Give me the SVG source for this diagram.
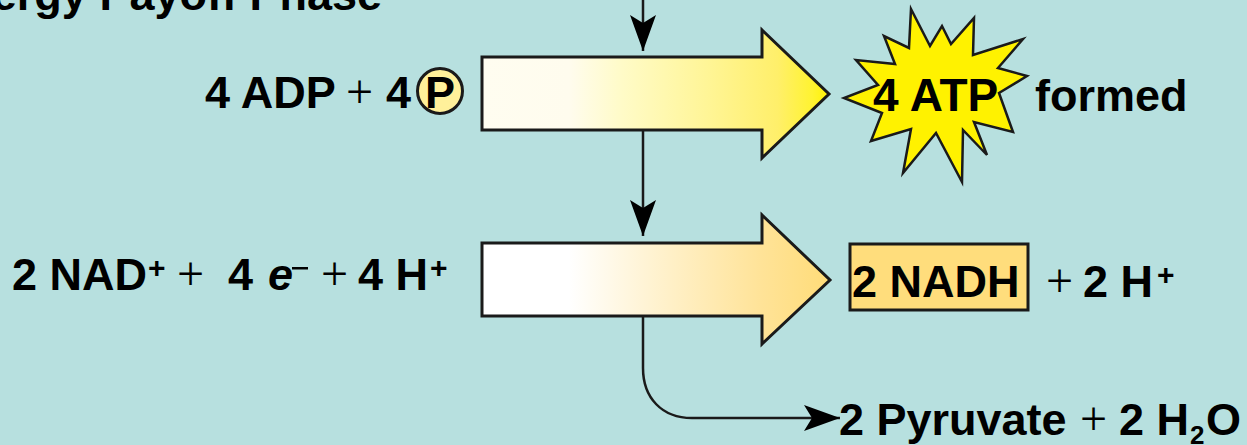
<svg xmlns="http://www.w3.org/2000/svg" width="1247" height="445" viewBox="0 0 1247 445">
<style>
text{font-family:"Liberation Sans",Arial,sans-serif;font-weight:700;font-size:45px;fill:#000}
.plain{font-family:"Liberation Serif","Times New Roman",serif;font-weight:400;font-size:48px}
.big{stroke:#1a1a1a;stroke-width:3;stroke-linejoin:miter}
.wire{fill:none;stroke:#1a1a1a;stroke-width:2.5}
.sup{font-size:30px}
.sub{font-size:26px}
</style>
<defs>
<linearGradient id="g1" gradientUnits="userSpaceOnUse" x1="482" x2="830" y1="0" y2="0"><stop offset="0" stop-color="#fffdf0"/><stop offset="0.25" stop-color="#fffcee"/><stop offset="0.4" stop-color="#fffbc8"/><stop offset="0.65" stop-color="#fff596"/><stop offset="0.85" stop-color="#ffef6a"/><stop offset="0.95" stop-color="#fff330"/><stop offset="1" stop-color="#fff200"/></linearGradient>
<linearGradient id="g2" gradientUnits="userSpaceOnUse" x1="482" x2="830" y1="0" y2="0"><stop offset="0" stop-color="#ffffff"/><stop offset="0.25" stop-color="#ffffff"/><stop offset="0.5" stop-color="#fff2cf"/><stop offset="0.8" stop-color="#ffe398"/><stop offset="1" stop-color="#ffdc78"/></linearGradient>
<marker id="ah" markerUnits="userSpaceOnUse" markerWidth="38" markerHeight="28" refX="36" refY="14" orient="auto"><path d="M0 1L36 14L0 27L8 14Z" fill="#000"/></marker>
</defs>
<rect width="1247" height="445" fill="#b7e0df"/>
<g id="connectors">
<path class="wire" d="M643 0V51" marker-end="url(#ah)"/>
<path class="wire" d="M643 130V236" marker-end="url(#ah)"/>
<path class="wire" d="M643 316V368C643 398 662 418 692 418H840" marker-end="url(#ah)"/>
</g>
<g id="title"><text x="382" y="10" text-anchor="end">Energy Payoff Phase</text></g>
<g id="arrow-atp"><path class="big" fill="url(#g1)" d="M482 57H762V30L829 94L762 158V130H482Z"/></g>
<g id="arrow-nadh"><path class="big" fill="url(#g2)" d="M482 243H762V215L830 280L762 344V316H482Z"/></g>
<g id="inputs-atp">
<text x="205" y="108">4 ADP</text>
<text x="346" y="108" class="plain">+</text>
<text x="386" y="108">4</text>
<circle cx="440" cy="91" r="22.5" fill="#fff09a" stroke="#1a1a1a" stroke-width="3"/>
<text x="440" y="108" text-anchor="middle">P</text>
</g>
<g id="atp">
<path d="M911 9L930 46L942 26L951 44L974 18L973 55L1023 39L998 68L1027 76L999 93L1013 132L974 122L987 155L963 130L962 182L936 133L903 173L911 129L871 141L882 113L844 98L878 85L856 60L895 64L884 36L909 48Z" fill="#fff200" stroke="#1a1a1a" stroke-width="2.5"/>
<text x="873" y="111" style="font-size:46px">4 ATP</text>
</g>
<g id="formed"><text x="1035" y="111">formed</text></g>
<g id="inputs-nadh">
<text x="12" y="290">2 NAD</text>
<text x="148" y="278" class="sup">+</text>
<text x="177" y="290" class="plain">+</text>
<text x="228" y="290">4</text>
<text x="268" y="290" style="font-style:italic">e</text>
<rect x="292" y="267" width="16" height="2.5" fill="#000"/>
<text x="321" y="290" class="plain">+</text>
<text x="358" y="290">4 H</text>
<text x="430" y="278" class="sup">+</text>
</g>
<g id="nadh">
<rect x="850" y="244" width="178" height="66" fill="#ffdd7c" stroke="#1a1a1a" stroke-width="3"/>
<text x="852" y="297">2 NADH</text>
</g>
<g id="hplus">
<text x="1046" y="297" class="plain">+</text>
<text x="1083" y="297">2 H</text>
<text x="1157" y="285" class="sup">+</text>
</g>
<g id="pyruvate">
<text x="839" y="435">2 Pyruvate</text>
<text x="1080" y="435" class="plain">+</text>
<text x="1119" y="435">2 H</text>
<text x="1190" y="444" class="sub">2</text>
<text x="1206" y="435">O</text>
</g>
</svg>
